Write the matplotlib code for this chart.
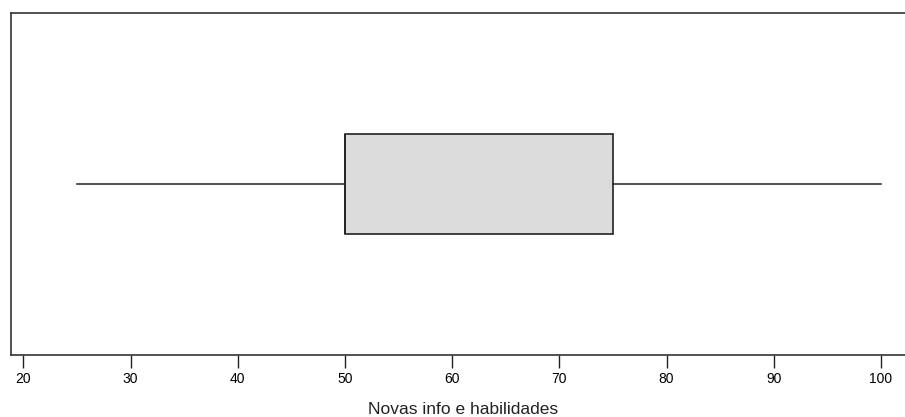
import matplotlib
matplotlib.use("Agg")
import matplotlib.pyplot as plt

plt.rcParams['font.family'] = ['Liberation Sans', 'DejaVu Sans']

# Box statistics
label = "Novas info e habilidades"
whisker_low = 25
q1 = 50
median = 50
q3 = 75
whisker_high = 100
xticks = [20, 30, 40, 50, 60, 70, 80, 90, 100]

W, H = 905, 417
fig = plt.figure(figsize=(W / 100, H / 100), dpi=100)
left_px, right_px, top_px, bottom_px = 11, 929, 13, 355
ax = fig.add_axes([left_px / W, 1 - bottom_px / H, (right_px - left_px) / W, (bottom_px - top_px) / H])

stats = [dict(whislo=whisker_low, q1=q1, med=median, q3=q3, whishi=whisker_high, fliers=[])]
ax.bxp(stats, positions=[1], widths=0.29, vert=False, showcaps=False, patch_artist=True,
       boxprops=dict(facecolor='#dcdcdc', edgecolor='#222222', linewidth=1.2),
       whiskerprops=dict(color='#222222', linewidth=1.1, linestyle='-'),
       medianprops=dict(color='#222222', linewidth=1.2))

px_per_unit = 10.72
xmin = 50 - (345 - left_px) / px_per_unit
xmax = xmin + (right_px - left_px) / px_per_unit
ax.set_xlim(xmin, xmax)
ax.set_ylim(0.5, 1.5)
ax.set_yticks([])
ax.set_xticks(xticks)
ax.set_xticklabels([str(t) for t in xticks])
ax.tick_params(axis='x', direction='out', length=9, width=1, color='#222222', labelsize=10, pad=3)
for s in ax.spines.values():
    s.set_color('#333333')
    s.set_linewidth(1.2)
ax.spines['right'].set_visible(False)

fig.text(463 / W, 1 - 414 / H, label, fontsize=12.5, color='#222222', ha='center', va='baseline')

fig.savefig("out.png", dpi=100)
